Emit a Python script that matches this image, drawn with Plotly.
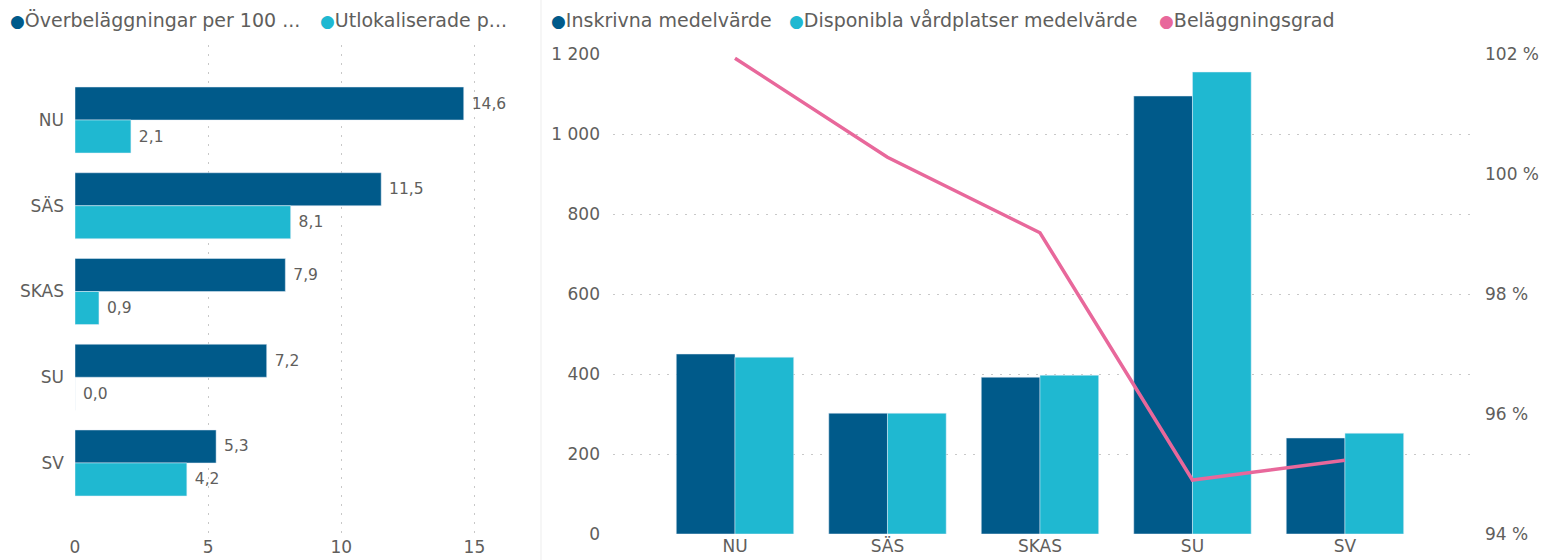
import plotly.graph_objects as go

# ---- data ----
left_categories = ["NU", "SÄS", "SKAS", "SU", "SV"]
overbelaggningar = [14.6, 11.5, 7.9, 7.2, 5.3]
utlokaliserade = [2.1, 8.1, 0.9, 0.0, 4.2]

right_categories = ["NU", "SÄS", "SKAS", "SU", "SV"]
inskrivna = [450, 302, 392, 1095, 240]
disponibla = [442, 302, 397, 1155, 252]
belaggningsgrad = [101.93, 100.28, 99.02, 94.9, 95.23]

left_legend = ["Överbeläggningar per 100 ...", "Utlokaliserade p..."]
right_legend = ["Inskrivna medelvärde", "Disponibla vårdplatser medelvärde", "Beläggningsgrad"]

DARK = "#005A8A"
LIGHT = "#1FB8D1"
PINK = "#E8689B"
TXT = "#605E5C"
GRID = "#C8C8C8"
DASH = "2px,7px"
FONT = "DejaVu Sans"
W, H = 1542, 560

fig = go.Figure()

label_font = dict(color=TXT, size=15.5, family=FONT)

# left chart
fig.add_trace(go.Bar(
    y=left_categories, x=overbelaggningar, orientation="h", marker_color=DARK,
    text=overbelaggningar, texttemplate="\u00a0%{x:.1f}", textposition="outside",
    textfont=label_font, cliponaxis=False,
    xaxis="x", yaxis="y", showlegend=False))
fig.add_trace(go.Bar(
    y=left_categories, x=utlokaliserade, orientation="h", marker_color=LIGHT,
    text=utlokaliserade, texttemplate="\u00a0%{x:.1f}", textposition="outside",
    textfont=label_font, cliponaxis=False,
    xaxis="x", yaxis="y", showlegend=False))

# right chart
fig.add_trace(go.Bar(x=right_categories, y=inskrivna, marker_color=DARK,
                     xaxis="x2", yaxis="y2", showlegend=False))
fig.add_trace(go.Bar(x=right_categories, y=disponibla, marker_color=LIGHT,
                     xaxis="x2", yaxis="y2", showlegend=False))
fig.add_trace(go.Scatter(x=right_categories, y=belaggningsgrad, mode="lines",
                         line=dict(color=PINK, width=3.5),
                         xaxis="x2", yaxis="y3", showlegend=False))

def px_x(p):
    return p / W

def px_y(p):
    return (H - p) / H

tickfont = dict(family=FONT, size=17, color=TXT)

fig.update_layout(
    width=W, height=H,
    margin=dict(l=0, r=0, t=0, b=0),
    paper_bgcolor="white", plot_bgcolor="white",
    separators=", ",
    barmode="group", bargap=0.23, bargroupgap=0,
    font=dict(family=FONT, color=TXT),
    xaxis=dict(domain=[px_x(75), px_x(501)], range=[0, 16], tickvals=[0, 5, 10, 15],
               showgrid=True, gridcolor=GRID, griddash=DASH, zeroline=False,
               showline=False, tickfont=tickfont, ticks="", anchor="y",
               automargin=False),
    yaxis=dict(domain=[px_y(535), px_y(45)], type="category",
               range=[4.84, -0.875], showgrid=False, zeroline=False,
               tickfont=tickfont, ticks="", ticklabelstandoff=10, anchor="x",
               automargin=False),
    xaxis2=dict(domain=[px_x(613), px_x(1470)], type="category", range=[-0.8, 4.82],
                showgrid=False, zeroline=False, tickfont=tickfont, ticks="", anchor="y2",
                automargin=False),
    yaxis2=dict(domain=[px_y(534), px_y(54)], range=[0, 1200], dtick=200,
                showgrid=True, gridcolor=GRID, griddash=DASH, zeroline=False,
                tickformat=",d", tickfont=tickfont, ticks="", ticklabelstandoff=12,
                anchor="x2", automargin=False),
    yaxis3=dict(domain=[px_y(534), px_y(54)], range=[94, 102], dtick=2,
                overlaying="y2", side="right", showgrid=False, zeroline=False,
                ticksuffix=" %", tickfont=tickfont, ticks="", ticklabelstandoff=14,
                anchor="x2", automargin=False),
)

# legends as annotations with circle markers
legend_font = dict(family=FONT, size=19, color=TXT)
def legend_item(xpx, color, label):
    fig.add_annotation(
        x=px_x(xpx), y=px_y(20), xref="paper", yref="paper",
        xanchor="left", yanchor="middle", showarrow=False, borderpad=0,
        text=f"<span style='color:{color};font-size:17px'>●</span>{label}", font=legend_font)

legend_item(9, DARK, left_legend[0])
legend_item(319, LIGHT, left_legend[1])
legend_item(550, DARK, right_legend[0])
legend_item(788, LIGHT, right_legend[1])
legend_item(1158, PINK, right_legend[2])

# separator between the two visuals
fig.add_shape(type="line", xref="paper", yref="paper",
              x0=px_x(541), x1=px_x(541), y0=0, y1=1,
              line=dict(color="#EDEDED", width=1))

fig.write_html(
    "out.html",
    config={"displayModeBar": False},
    post_script="document.body.style.margin='0';document.body.style.overflow='hidden';",
)
